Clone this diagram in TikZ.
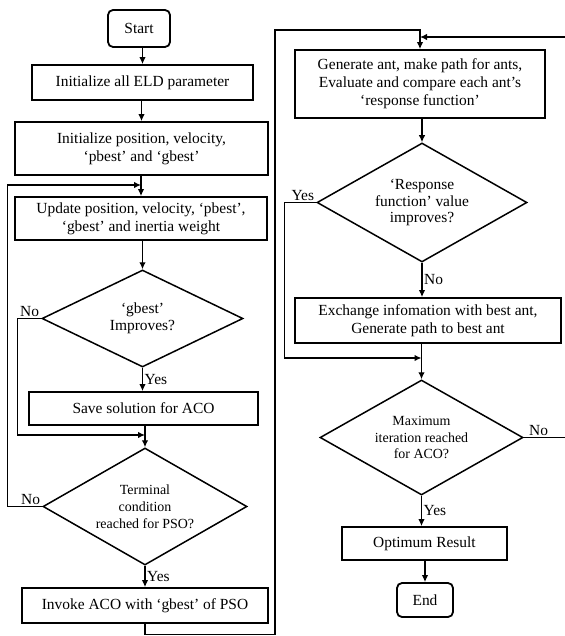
\documentclass[tikz,border=0pt]{standalone}
\usepackage{fontspec}
\setmainfont{Liberation Serif}
\usetikzlibrary{shapes.geometric,arrows.meta}

\begin{document}
\begin{tikzpicture}[x=1bp,y=-1bp,line width=1.3bp,>={Latex[length=7bp,width=6.5bp]},
    font=\fontsize{15.5}{18}\selectfont,
    box/.style={draw,align=center,inner sep=2bp,line width=1.8bp},
    startend/.style={box,rounded corners=5bp},
    cond/.style={draw,diamond,align=center,inner sep=0pt,aspect=1.75,line width=1.5bp},
    lbl/.style={inner sep=1.5bp}]
  \useasboundingbox (0,0) rectangle (565,636);
  % boxes: name/x/y/width/height/text
  \foreach \nm/\cx/\cy/\bw/\bh/\txt in {%
    eld/142.5/82.5/221/35/{Initialize all ELD parameter},
    initpos/141.5/148.5/253/53/{Initialize position, velocity,\\ `pbest' and `gbest'},
    update/141/218.5/252/43/{Update position, velocity, `pbest',\\ `gbest' and inertia weight},
    save/143.5/408.5/229/33/{Save solution for ACO},
    invoke/145/605.5/246/35/{Invoke ACO with `gbest' of PSO},
    gen/420/84/250/68/{Generate ant, make path for ants,\\ Evaluate and compare each ant's\\ `response function'},
    exch/428/320.5/266/45/{Exchange infomation with best ant,\\ Generate path to best ant},
    optres/424.5/543.5/165/33/{Optimum Result}}{%
      \node[box,minimum width=\bw bp,minimum height=\bh bp] (\nm) at (\cx,\cy) {\txt};
    }
  \node[startend,minimum width=62bp,minimum height=37bp] (start) at (139,28.5) {Start};
  \node[startend,minimum width=56bp,minimum height=34bp] (stop) at (425,600) {End};
  % decisions: name/x/y/width/height/font size/text
  \foreach \nm/\cx/\cy/\bw/\bh/\fs/\txt in {%
    gbestq/142.5/318.5/201/97/15.5/{`gbest'\\ Improves?},
    psoq/145/506.5/204/117/14/{Terminal\\ condition\\ reached for PSO?},
    respq/422/202.5/210/119/15.5/{`Response\\ function' value\\ improves?},
    iterq/421.5/437.5/203/115/14/{Maximum\\ iteration reached\\ for ACO?}}{%
      \node[cond,minimum width=\bw bp,minimum height=\bh bp,
        font=\fontsize{\fs}{17}\selectfont] (\nm) at (\cx,\cy) {\txt};
    }
  \coordinate (jA) at (145,435);
  \coordinate (jB) at (141,185);
  \coordinate (jC) at (421.5,358);
  \coordinate (cL) at (275,30);
  \coordinate (eR) at (565,37);
  \coordinate (eM) at (565,437.5);
  \foreach \a/\b in {start/eld,eld/initpos,initpos/update,update/gbestq,
    save/psoq,gen/respq,exch/iterq,optres/stop}{%
      \draw[->] (\a.south -| \b.north) -- (\b.north);
    }
  \draw[->] (gbestq.south) -- node[lbl,right]{Yes} (gbestq.south |- save.north);
  \draw[->] (psoq.south) -- node[lbl,right]{Yes} (psoq.south |- invoke.north);
  \draw[->] (respq.south) -- node[lbl,right]{No} (respq.south |- exch.north);
  \draw[->] (iterq.south) -- node[lbl,right]{Yes} (iterq.south |- optres.north);
  % loops
  \draw[->] (gbestq.west) node[lbl,above left]{No} -- ++(-24,0) |- (jA);
  \draw[->] (psoq.west) node[lbl,above left]{No} -- ++(-35,0) |- (jB);
  \draw[->] (respq.west) node[lbl,above left]{Yes} -- ++(-32,0) |- (jC);
  \draw[->] (invoke.south) -- ++(0,10.5) -| (cL) -| (gen.north);
  \draw[->] (eR) -- (gen.north |- eR);
  \draw (iterq.east) -- node[lbl,above,pos=.36]{No} (eM);
\end{tikzpicture}
\end{document}
